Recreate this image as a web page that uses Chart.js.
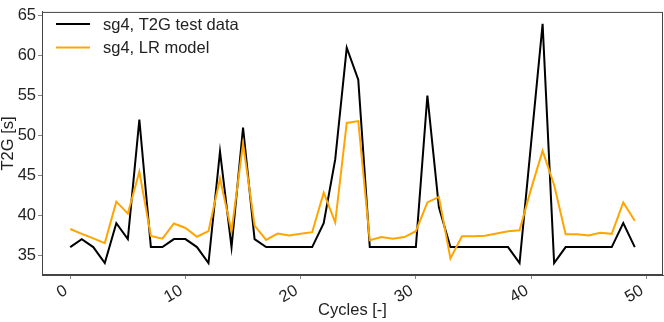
<!DOCTYPE html>
<html>
<head>
<meta charset="utf-8">
<script src="https://cdn.jsdelivr.net/npm/chart.js@4/dist/chart.umd.min.js"></script>
<style>
  html, body { margin: 0; padding: 0; background: #fff; }
  #wrap { width: 664px; height: 322px; }
</style>
</head>
<body>
<div id="wrap"><canvas id="chart" width="664" height="322"></canvas></div>
<script>
const cycles = [0, 1, 2, 3, 4, 5, 6, 7, 8, 9, 10, 11, 12, 13, 14, 15, 16, 17, 18, 19,
  20, 21, 22, 23, 24, 25, 26, 27, 28, 29, 30, 31, 32, 33, 34, 35, 36, 37, 38, 39,
  40, 41, 42, 43, 44, 45, 46, 47, 48, 49];

// measured T2G
const testData = [36, 37, 36, 34, 39, 37, 52, 36, 36, 37, 37, 36, 34, 48, 36, 51, 37, 36, 36, 36,
  36, 36, 39, 47, 61, 57, 36, 36, 36, 36, 36, 55, 41, 36, 36, 36, 36, 36, 36, 34,
  49, 64, 34, 36, 36, 36, 36, 36, 39, 36];

// LR model prediction
const lrModel = [38.27, 37.66, 37.1, 36.5, 41.7, 40.2, 45.45, 37.4, 37.06, 38.96, 38.4, 37.3, 38, 44.6, 38, 49, 38.7, 36.9, 37.7, 37.46,
  37.66, 37.87, 42.83, 39.1, 51.57, 51.8, 36.86, 37.26, 37.06, 37.26, 37.99, 41.6, 42.3, 34.56, 37.35, 37.35, 37.42, 37.7, 37.99, 38.1,
  43.3, 48.07, 43.8, 37.6, 37.6, 37.46, 37.8, 37.66, 41.6, 39.3];

const xTicks = [0, 10, 20, 30, 40, 50];
const yTicks = [35, 40, 45, 50, 55, 60, 65];

const FONT = 'Liberation Sans, Arial, sans-serif';
const axisColor = '#444';

function toPoints(values) {
  return cycles.map((c, i) => ({ x: c, y: values[i] }));
}

// full box round the plot + legend in the upper left
const framePlugin = {
  id: 'frame',
  afterDraw(chart) {
    const { ctx, chartArea } = chart;
    ctx.save();
    ctx.strokeStyle = axisColor;
    ctx.lineWidth = 1;
    ctx.strokeRect(chartArea.left + 0.5, chartArea.top + 0.5,
      chartArea.right - chartArea.left - 1, chartArea.bottom - chartArea.top - 1);

    // legend
    const items = chart.data.datasets;
    ctx.font = '16.5px ' + FONT;
    ctx.textBaseline = 'middle';
    items.forEach((ds, i) => {
      const y = 24 + i * 23.5;
      ctx.strokeStyle = ds.borderColor;
      ctx.lineWidth = 2;
      ctx.beginPath();
      ctx.moveTo(56, y);
      ctx.lineTo(90, y);
      ctx.stroke();
      ctx.fillStyle = '#222';
      ctx.fillText(ds.label, 103, y + 1);
    });
    ctx.restore();
  }
};

new Chart(document.getElementById('chart'), {
  type: 'line',
  data: {
    datasets: [
      {
        label: 'sg4, T2G test data',
        data: toPoints(testData),
        borderColor: '#000000',
        borderWidth: 2,
        pointRadius: 0,
        tension: 0,
        order: 1
      },
      {
        label: 'sg4, LR model',
        data: toPoints(lrModel),
        borderColor: '#FFA500',
        borderWidth: 2,
        pointRadius: 0,
        tension: 0,
        order: 0
      }
    ]
  },
  options: {
    responsive: false,
    animation: false,
    layout: { padding: { top: 3, right: 1, left: 0, bottom: 0 } },
    plugins: {
      legend: { display: false },
      tooltip: { enabled: false }
    },
    scales: {
      x: {
        type: 'linear',
        min: -2.45,
        max: 51.45,
        afterBuildTicks: s => { s.ticks = xTicks.map(v => ({ value: v })); },
        afterFit: s => { s.height = 47; },
        grid: { drawOnChartArea: false, drawTicks: true, tickLength: 4, color: '#888' },
        border: { display: true, color: axisColor, width: 1 },
        ticks: {
          minRotation: 30,
          maxRotation: 30,
          padding: 2,
          labelOffset: -4,
          color: '#222',
          font: { family: FONT, size: 16.5 }
        },
        title: {
          display: true,
          text: 'Cycles [-]',
          color: '#222',
          font: { family: FONT, size: 16.5 },
          padding: { top: 0, bottom: 2 }
        }
      },
      y: {
        min: 32.5,
        max: 65.5,
        afterBuildTicks: s => { s.ticks = yTicks.map(v => ({ value: v })); },
        afterFit: s => { s.width = 42; },
        grid: { drawOnChartArea: false, drawTicks: true, tickLength: 4, color: '#888' },
        border: { display: true, color: axisColor, width: 1 },
        ticks: {
          padding: 2,
          color: '#222',
          font: { family: FONT, size: 16.5 }
        },
        title: {
          display: true,
          text: 'T2G [s]',
          color: '#222',
          font: { family: FONT, size: 16.5, lineHeight: 1 },
          padding: 0
        }
      }
    }
  },
  plugins: [framePlugin]
});
</script>
</body>
</html>
